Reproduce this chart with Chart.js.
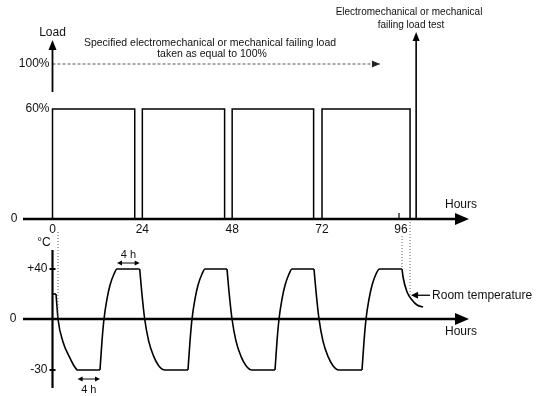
<!DOCTYPE html>
<html><head><meta charset="utf-8">
<script src="https://cdn.jsdelivr.net/npm/chart.js@4/dist/chart.umd.min.js"></script>
<style>
html,body{margin:0;padding:0;background:#fff;}
#wrap{position:relative;width:542px;height:396px;overflow:hidden;background:#fff;}
canvas{position:absolute;left:0;}
#loadChart{top:0;}
#tempChart{top:220px;}
</style></head><body>
<div id="wrap">
<canvas id="loadChart" width="542" height="236"></canvas>
<canvas id="tempChart" width="542" height="176"></canvas>
</div>
<script>
// ---------------- data ----------------
const hourTicks = [0, 24, 48, 72, 96];
const loadTickValues = [0, 60, 100];
const loadTickLabels = ['0', '60%', '100%'];
const loadStartHours = [0, 24, 48, 72];
const loadEndHours = [21.97, 45.98, 69.76, 98.75];
const loadLevel = 60;
const referenceLoad = 100;
const referenceLineHours = [0, 89.6];
const failureTestHour = 100.6;
const tempTickValues = [40, 0, -30];
const tempTickLabels = ['+40', '0', '-30'];
const tempHours = [0, 0.94, 1.2, 1.47, 2.81, 4.68, 5.74, 6.71, 12.69,
  13.22, 13.76, 14.56, 15.36, 16.43, 17.23, 23.30,
  23.83, 24.63, 25.70, 27.04, 28.37, 30.06, 36.20,
  36.74, 37.27, 38.07, 38.87, 39.94, 40.74, 46.62,
  47.15, 47.96, 49.03, 50.36, 51.70, 53.30, 59.45,
  59.98, 60.52, 61.32, 62.12, 63.19, 63.99, 69.86,
  70.40, 71.20, 72.30, 73.82, 75.34, 77.17, 84.16,
  84.77, 85.37, 86.29, 87.20, 88.41, 89.48, 96.32,
  96.62, 97.84, 99.36, 100.88, 102.70];
const tempValues = [20, 20, 10, 0, -13.5, -23, -27.5, -30, -30,
  -13, 0, 16, 27, 36, 40, 40,
  22, 0, -13, -22, -27.5, -30, -30,
  -13, 0, 16, 27, 36, 40, 40,
  22, 0, -13, -22, -27.5, -30, -30,
  -13, 0, 16, 27, 36, 40, 40,
  22, 0, -13, -22, -27.5, -30, -30,
  -13, 0, 16, 27, 36, 40, 40,
  33.6, 21.6, 15.2, 11.2, 9.6];
const roomTempArrowValue = 19;

// ---------------- a piecewise-linear scale (diagram axes are not to scale) ----------------
class PiecewiseScale extends Chart.LinearScale {
  _offset(v) {
    const s = this.options.stops;
    let i = 0;
    while (i < s.length - 2 && v > s[i + 1][0]) i++;
    const a = s[i], b = s[i + 1];
    return a[1] + (v - a[0]) * (b[1] - a[1]) / (b[0] - a[0]);
  }
  getPixelForValue(v) {
    const o = this._offset(v);
    return this.isHorizontal() ? this.left + o : this.bottom - o;
  }
  getValueForPixel(p) {
    const o = this.isHorizontal() ? p - this.left : this.bottom - p;
    const s = this.options.stops;
    let i = 0;
    while (i < s.length - 2 && o > s[i + 1][1]) i++;
    const a = s[i], b = s[i + 1];
    return a[0] + (o - a[1]) * (b[0] - a[0]) / (b[1] - a[1]);
  }
}
PiecewiseScale.id = 'piecewise';
PiecewiseScale.defaults = Chart.LinearScale.defaults;
Chart.register(PiecewiseScale);

const FONT = '"Liberation Sans", Arial, Helvetica, sans-serif';
const hourStops = [[0, 29.5], [72, 299], [96, 378]];

function seg(ctx, x1, y1, x2, y2) { ctx.beginPath(); ctx.moveTo(x1, y1); ctx.lineTo(x2, y2); ctx.stroke(); }
function head(ctx, tx, ty, ang, len, half) {
  const c = Math.cos(ang), s = Math.sin(ang);
  ctx.beginPath();
  ctx.moveTo(tx, ty);
  ctx.lineTo(tx - len * c + half * s, ty - len * s - half * c);
  ctx.lineTo(tx - len * c - half * s, ty - len * s + half * c);
  ctx.closePath(); ctx.fill();
}
function dblArrow(ctx, x1, x2, yy) {
  ctx.lineWidth = 1; seg(ctx, x1 + 3, yy, x2 - 3, yy);
  head(ctx, x1, yy, Math.PI, 5, 2.5); head(ctx, x2, yy, 0, 5, 2.5);
}
function txt(ctx, s, x, y, size, align, weight) {
  ctx.font = (weight || '') + ' ' + size + 'px ' + FONT;
  ctx.textAlign = align || 'center'; ctx.textBaseline = 'middle';
  ctx.fillText(s, x, y);
}

// ---------------- top chart: load ----------------
const loadPoints = [];
loadStartHours.forEach((s, i) => {
  loadPoints.push({x: s, y: 0}, {x: s, y: loadLevel}, {x: loadEndHours[i], y: loadLevel}, {x: loadEndHours[i], y: 0});
});

const loadDecor = {
  id: 'loadDecor',
  afterDraw(chart) {
    const {ctx, chartArea: a, scales: {x, y}} = chart;
    const x0 = x.getPixelForValue(0), y0 = y.getPixelForValue(0);
    ctx.save();
    ctx.fillStyle = '#000'; ctx.strokeStyle = '#000';
    // hours axis
    ctx.lineWidth = 2.5; seg(ctx, a.left, y0, a.right - 12, y0); head(ctx, a.right, y0, 0, 14, 6);
    const x96 = x.getPixelForValue(96) - 2;
    ctx.lineWidth = 1.2; seg(ctx, x96, y0, x96, y0 - 6);
    // load axis arrow
    ctx.lineWidth = 1.8;
    seg(ctx, x0, y.getPixelForValue(loadLevel) - 17, x0, a.top + 28);
    head(ctx, x0, a.top + 20, -Math.PI / 2, 10, 4);
    // failing load test arrow
    const xf = x.getPixelForValue(failureTestHour);
    ctx.lineWidth = 1.6; seg(ctx, xf, y0, xf, 40); head(ctx, xf, 32, -Math.PI / 2, 9, 3.5);
    // reference line arrow head
    ctx.fillStyle = '#222';
    head(ctx, x.getPixelForValue(referenceLineHours[1]), y.getPixelForValue(referenceLoad), 0, 8, 3.5);
    // texts
    ctx.fillStyle = '#111';
    hourTicks.forEach(h => txt(ctx, String(h), x.getPixelForValue(h), y0 + 11, 12));
    loadTickValues.forEach((v, i) => {
      if (v === 0) txt(ctx, loadTickLabels[i], a.left - 9, y0, 12);
      else txt(ctx, loadTickLabels[i], x0 - 3, y.getPixelForValue(v), 12, 'right');
    });
    txt(ctx, 'Load', x0, 33, 12);
    txt(ctx, 'Hours', a.right - 8, y0 - 14, 12);
    txt(ctx, 'Specified electromechanical or mechanical failing load', 210, 43, 10.5);
    txt(ctx, 'taken as equal to 100%', 212, 54, 10.5);
    txt(ctx, 'Electromechanical or mechanical', 409, 12, 10);
    txt(ctx, 'failing load test', 411, 25, 10);
    ctx.restore();
  }
};

new Chart(document.getElementById('loadChart'), {
  type: 'line',
  data: {
    datasets: [
      {data: loadPoints, borderColor: '#000', borderWidth: 1.5, pointRadius: 0, tension: 0, clip: false},
      {data: referenceLineHours.map(h => ({x: h, y: referenceLoad})), borderColor: '#555', borderWidth: 1,
       borderDash: [3, 2], pointRadius: 0, clip: false}
    ]
  },
  options: {
    responsive: false, animation: false, events: [],
    layout: {padding: {left: 23, right: 73, top: 20, bottom: 17}},
    plugins: {legend: {display: false}, tooltip: {enabled: false}},
    scales: {
      x: {type: 'piecewise', display: false, stops: hourStops},
      y: {type: 'piecewise', display: false, stops: [[0, 0], [60, 110], [100, 155]]}
    }
  },
  plugins: [loadDecor]
});

// ---------------- bottom chart: temperature ----------------
function splitAtCorners(xs, ys) {
  const pieces = []; let cur = [];
  for (let i = 0; i < xs.length; i++) {
    cur.push({x: xs[i], y: ys[i]});
    if (i > 0 && i < xs.length - 1 && ys[i] === ys[i - 1] && ys[i + 1] !== ys[i]) {
      pieces.push(cur); cur = [{x: xs[i], y: ys[i]}];
    }
  }
  if (cur.length > 1) pieces.push(cur);
  return pieces;
}
const tempSets = splitAtCorners(tempHours, tempValues).map(p => ({
  data: p, borderColor: '#000', borderWidth: 1.6, pointRadius: 0,
  cubicInterpolationMode: 'monotone', clip: false
}));

function plateau(value) {
  for (let i = 0; i < tempValues.length - 1; i++)
    if (tempValues[i] === value && tempValues[i + 1] === value) return [tempHours[i], tempHours[i + 1]];
}

const tempDecor = {
  id: 'tempDecor',
  afterDraw(chart) {
    const {ctx, chartArea: a, scales: {x, y}} = chart;
    const x0 = x.getPixelForValue(0), y0 = y.getPixelForValue(0);
    ctx.save();
    // dotted guides
    ctx.strokeStyle = '#666'; ctx.lineWidth = 1; ctx.setLineDash([1, 2]);
    const xz = x.getPixelForValue(tempHours[tempValues.indexOf(0)]);
    seg(ctx, xz, 12, xz, y0);
    const xe = x.getPixelForValue(tempHours[tempValues.lastIndexOf(40)]);
    seg(ctx, xe, 16, xe, y.getPixelForValue(40));
    const xl = x.getPixelForValue(loadEndHours[loadEndHours.length - 1]);
    seg(ctx, xl, 2, xl, y.getPixelForValue(roomTempArrowValue));
    ctx.setLineDash([]);
    ctx.strokeStyle = '#000'; ctx.fillStyle = '#000';
    // axes
    ctx.lineWidth = 2.5; seg(ctx, a.left, y0, a.right - 12, y0); head(ctx, a.right, y0, 0, 14, 6);
    ctx.lineWidth = 2.2; seg(ctx, x0, a.top, x0, a.bottom);
    ctx.lineWidth = 2;
    tempTickValues.forEach(v => { if (v !== 0) { const py = y.getPixelForValue(v); seg(ctx, x0 - 3, py, x0 + 3, py); } });
    // 4 h markers
    const hot = plateau(40), cold = plateau(-30);
    dblArrow(ctx, x.getPixelForValue(hot[0]), x.getPixelForValue(hot[1]), y.getPixelForValue(40) - 6);
    dblArrow(ctx, x.getPixelForValue(cold[0]), x.getPixelForValue(cold[1]), y.getPixelForValue(-30) + 9);
    // room temperature arrow
    const ry = y.getPixelForValue(roomTempArrowValue);
    ctx.lineWidth = 1.3; seg(ctx, xl + 4, ry, xl + 20, ry); head(ctx, xl + 1, ry, Math.PI, 7, 3.5);
    // texts
    ctx.fillStyle = '#111';
    tempTickValues.forEach((v, i) => {
      if (v === 0) txt(ctx, tempTickLabels[i], a.left - 10, y0, 12);
      else txt(ctx, tempTickLabels[i], x0 - 5, y.getPixelForValue(v), 12, 'right');
    });
    txt(ctx, '°C', x0 - 8.5, a.top - 7, 12);
    txt(ctx, 'Hours', a.right - 8, y0 + 13, 12);
    txt(ctx, '4 h', (x.getPixelForValue(hot[0]) + x.getPixelForValue(hot[1])) / 2, y.getPixelForValue(40) - 14, 11);
    txt(ctx, '4 h', (x.getPixelForValue(cold[0]) + x.getPixelForValue(cold[1])) / 2, y.getPixelForValue(-30) + 20, 11);
    txt(ctx, 'Room temperature', xl + 22, ry, 12, 'left');
    ctx.restore();
  }
};

new Chart(document.getElementById('tempChart'), {
  type: 'line',
  data: {datasets: tempSets},
  options: {
    responsive: false, animation: false, events: [],
    layout: {padding: {left: 23, right: 73, top: 30, bottom: 8}},
    plugins: {legend: {display: false}, tooltip: {enabled: false}},
    scales: {
      x: {type: 'piecewise', display: false, stops: hourStops},
      y: {type: 'piecewise', display: false, stops: [[-30, 18], [0, 69], [40, 119]]}
    }
  },
  plugins: [tempDecor]
});
</script>
</body></html>
